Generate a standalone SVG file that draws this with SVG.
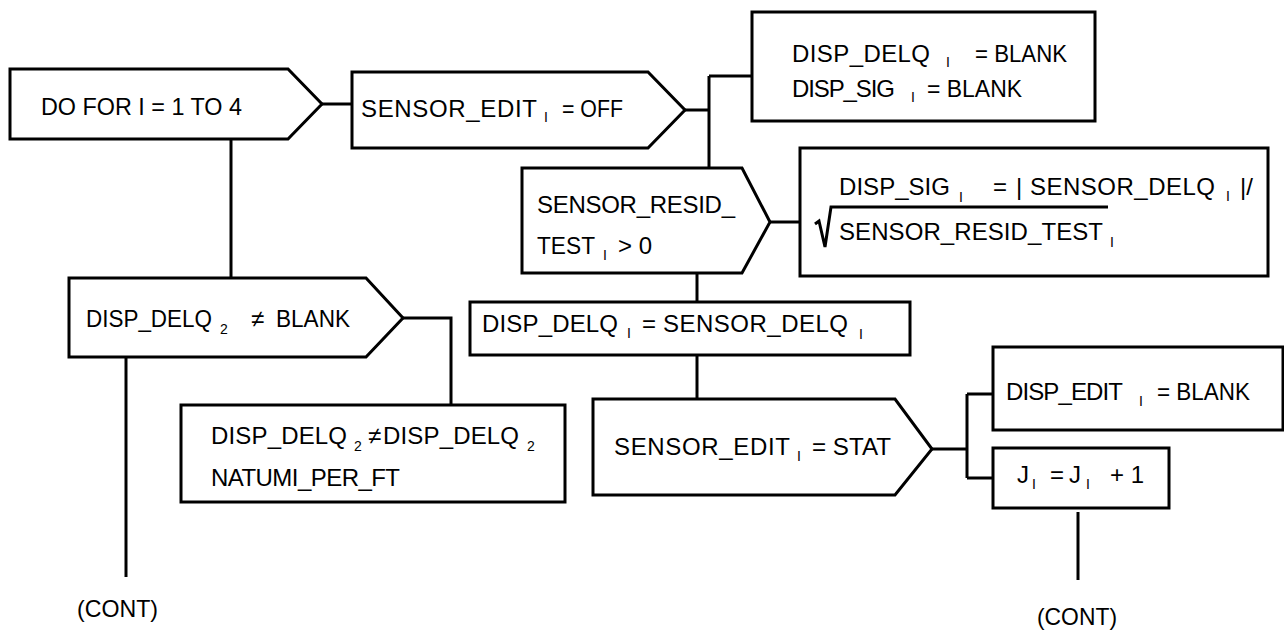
<svg xmlns="http://www.w3.org/2000/svg" width="1284" height="633" viewBox="0 0 1284 633">
<style>
.n{fill:#fff;stroke:#000;stroke-width:3;stroke-linejoin:miter}
.c{fill:none;stroke:#000;stroke-width:3}
text{font-family:"Liberation Sans",Arial,sans-serif;font-size:24px;fill:#000}
.s{font-size:14px}
</style>
<rect width="1284" height="633" fill="#fff"/>
<g id="connectors">
<path class="c" d="M322,104 H352"/>
<path class="c" d="M231,139 V278"/>
<path class="c" d="M685,110 H709 M709,76 V168 M709,76 H752"/>
<path class="c" d="M770,222 H800"/>
<path class="c" d="M697,273 V302"/>
<path class="c" d="M697,355 V399"/>
<path class="c" d="M932,449 H967 M967,394 V478 M967,394 H993 M967,478 H993"/>
<path class="c" d="M1078,512 V580"/>
<path class="c" d="M403,318 H451 V405"/>
<path class="c" d="M126,357 V577"/>
</g>
<g id="n1">
<polygon class="n" points="10,69 288,69 322,104 288,139 10,139"/>
<text x="41" y="115" textLength="201" lengthAdjust="spacingAndGlyphs">DO FOR I = 1 TO 4</text>
</g>
<g id="n2">
<polygon class="n" points="352,72 648,72 685,110 648,148 352,148"/>
<text x="361" y="117" textLength="176" lengthAdjust="spacing">SENSOR_EDIT</text>
<text class="s" x="544" y="122">I</text>
<text x="562" y="117" textLength="61" lengthAdjust="spacingAndGlyphs">= OFF</text>
</g>
<g id="n3">
<rect class="n" x="752" y="12" width="343" height="109"/>
<text x="792" y="62" textLength="138" lengthAdjust="spacing">DISP_DELQ</text>
<text class="s" x="946" y="67">I</text>
<text x="975" y="62" textLength="92" lengthAdjust="spacingAndGlyphs">= BLANK</text>
<text x="792" y="97" textLength="103" lengthAdjust="spacing">DISP_SIG</text>
<text class="s" x="911" y="102">I</text>
<text x="927" y="97" textLength="95" lengthAdjust="spacingAndGlyphs">= BLANK</text>
</g>
<g id="n4">
<polygon class="n" points="522,168 742,168 770,222 742,273 522,273"/>
<text x="537" y="213" textLength="198" lengthAdjust="spacing">SENSOR_RESID_</text>
<text x="537" y="254" textLength="58" lengthAdjust="spacingAndGlyphs">TEST</text>
<text class="s" x="603" y="260">I</text>
<text x="618" y="254">&gt; 0</text>
</g>
<g id="n5">
<rect class="n" x="800" y="148" width="468" height="128"/>
<text x="839" y="195" textLength="111" lengthAdjust="spacing">DISP_SIG</text>
<text class="s" x="959" y="202">I</text>
<text x="993" y="195">=</text>
<text x="1016" y="195">|</text>
<text x="1030" y="195" textLength="185" lengthAdjust="spacing">SENSOR_DELQ</text>
<text class="s" x="1226" y="201">I</text>
<text x="1240" y="195">|/</text>
<path class="c" d="M815,224 L819,221 L825,247 L831,207 H1108" stroke-width="2"/>
<text x="839" y="240" textLength="264" lengthAdjust="spacing">SENSOR_RESID_TEST</text>
<text class="s" x="1110" y="247">I</text>
</g>
<g id="n6">
<polygon class="n" points="69,278 366,278 403,318 366,357 69,357"/>
<text x="86" y="327" textLength="126" lengthAdjust="spacingAndGlyphs">DISP_DELQ</text>
<text class="s" x="220" y="334">2</text>
<text x="251" y="327">≠</text>
<text x="276" y="327" textLength="74" lengthAdjust="spacingAndGlyphs">BLANK</text>
</g>
<g id="n7">
<rect class="n" x="181" y="405" width="384" height="97"/>
<text x="211" y="444" textLength="136" lengthAdjust="spacing">DISP_DELQ</text>
<text class="s" x="354" y="451">2</text>
<text x="368" y="444">≠</text>
<text x="383" y="444" textLength="136" lengthAdjust="spacing">DISP_DELQ</text>
<text class="s" x="527" y="451">2</text>
<text x="211" y="486" textLength="189" lengthAdjust="spacing">NATUMI_PER_FT</text>
</g>
<g id="n8">
<rect class="n" x="470" y="302" width="440" height="53"/>
<text x="482" y="332" textLength="136" lengthAdjust="spacing">DISP_DELQ</text>
<text class="s" x="627" y="338">I</text>
<text x="642" y="332">=</text>
<text x="663" y="332" textLength="185" lengthAdjust="spacing">SENSOR_DELQ</text>
<text class="s" x="859" y="339">I</text>
</g>
<g id="n9">
<polygon class="n" points="593,399 895,399 932,449 895,495 593,495"/>
<text x="614" y="455" textLength="176" lengthAdjust="spacing">SENSOR_EDIT</text>
<text class="s" x="797" y="461">I</text>
<text x="812" y="455" textLength="79" lengthAdjust="spacingAndGlyphs">= STAT</text>
</g>
<g id="n10">
<rect class="n" x="993" y="347" width="290" height="83"/>
<text x="1006" y="400" textLength="117" lengthAdjust="spacing">DISP_EDIT</text>
<text class="s" x="1139" y="406">I</text>
<text x="1157" y="400" textLength="93" lengthAdjust="spacingAndGlyphs">= BLANK</text>
</g>
<g id="n11">
<rect class="n" x="993" y="448" width="176" height="60"/>
<text x="1017" y="483">J</text>
<text class="s" x="1032" y="489">I</text>
<text x="1050" y="483">=</text>
<text x="1069" y="483">J</text>
<text class="s" x="1086" y="489">I</text>
<text x="1110" y="483">+ 1</text>
</g>
<g id="cont1"><text x="77" y="617" textLength="81" lengthAdjust="spacingAndGlyphs">(CONT)</text></g>
<g id="cont2"><text x="1037" y="625" textLength="80" lengthAdjust="spacingAndGlyphs">(CONT)</text></g>
</svg>
